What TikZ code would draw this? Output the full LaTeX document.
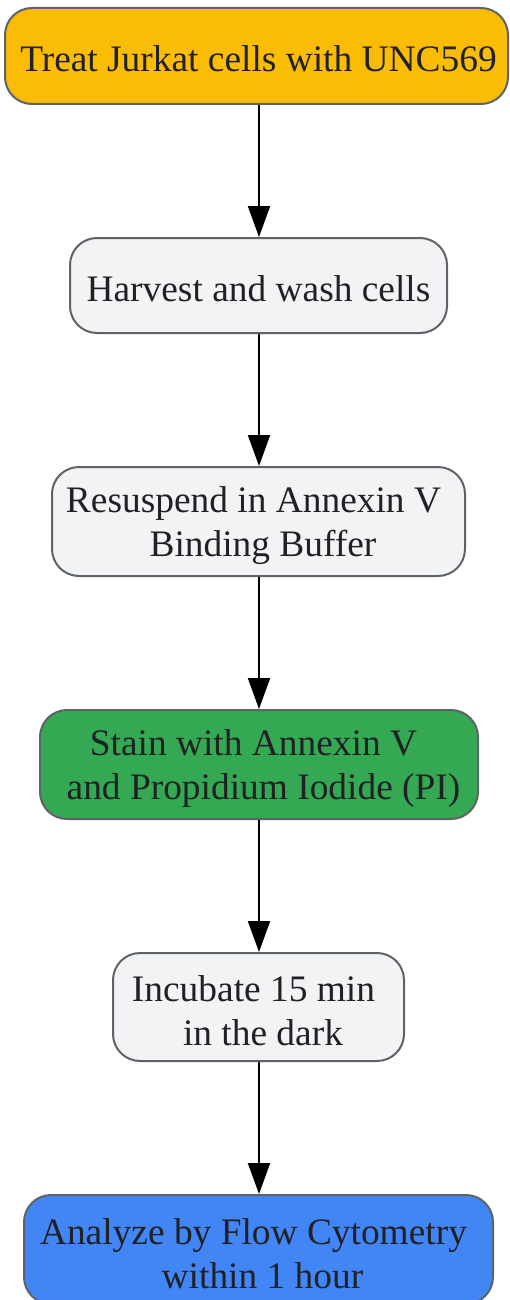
\documentclass[tikz,border=0pt]{standalone}
\usepackage{fontspec}
\setmainfont{Liberation Serif}
\usetikzlibrary{arrows.meta}
\definecolor{cborder}{HTML}{5F6368}
\definecolor{ctext}{HTML}{202124}
\definecolor{corange}{HTML}{FBBC05}
\definecolor{cgreen}{HTML}{34A853}
\definecolor{cblue}{HTML}{4285F4}
\definecolor{cgray}{HTML}{F1F3F4}
\tikzset{
  stepbox/.style={draw=cborder, line width=2pt, rounded corners=27pt, inner sep=0pt},
  steptext/.style={inner sep=0pt, align=center, text=ctext, font=\fontsize{37.4}{44}\selectfont},
  flow/.style={draw=black, line width=2pt, -{Triangle[length=31pt,width=22pt]}}
}
\begin{document}
\begin{tikzpicture}[x=1pt,y=-1pt]
\useasboundingbox (0,0) rectangle (509,1300);
\node[stepbox, fill=corange, minimum width=503pt, minimum height=96pt] (treat) at (256.5,56) {};
\node[steptext] (treatT) at ([xshift=2pt,yshift=-3pt]treat.center) {Treat Jurkat cells with UNC569};
\node[stepbox, fill=cgray, minimum width=377pt, minimum height=95pt] (harvest) at (258.5,285.5) {};
\node[steptext] (harvestT) at ([yshift=-3pt]harvest.center) {Harvest and wash cells};
\node[stepbox, fill=cgray, minimum width=413pt, minimum height=109pt] (resus) at (258.5,521.5) {};
\node[steptext] (resusT) at ([yshift=-4pt]resus.center) {Resuspend in Annexin V\kern10pt\\\kern9pt Binding Buffer};
\node[stepbox, fill=cgreen, minimum width=438pt, minimum height=109pt] (stain) at (259,764.5) {};
\node[steptext] (stainT) at ([yshift=-4pt]stain.center) {Stain with Annexin V\kern11pt\\\kern9pt and Propidium Iodide (PI)};
\node[stepbox, fill=cgray, minimum width=291pt, minimum height=108pt] (incub) at (258.5,1007) {};
\node[steptext] (incubT) at ([yshift=-4pt]incub.center) {Incubate 15 min\kern10pt\\\kern9pt in the dark};
\node[stepbox, fill=cblue, minimum width=469pt, minimum height=109pt] (analyze) at (258.5,1249.5) {};
\node[steptext] (analyzeT) at ([yshift=-4pt]analyze.center) {Analyze by Flow Cytometry\kern10pt\\\kern8pt within 1 hour};
\draw[flow] (treat.south -| 259,0) -- (harvest.north -| 259,0);
\draw[flow] (harvest.south -| 259,0) -- (resus.north -| 259,0);
\draw[flow] (resus.south -| 259,0) -- (stain.north -| 259,0);
\draw[flow] (stain.south -| 259,0) -- (incub.north -| 259,0);
\draw[flow] (incub.south -| 259,0) -- (analyze.north -| 259,0);
\end{tikzpicture}
\end{document}
